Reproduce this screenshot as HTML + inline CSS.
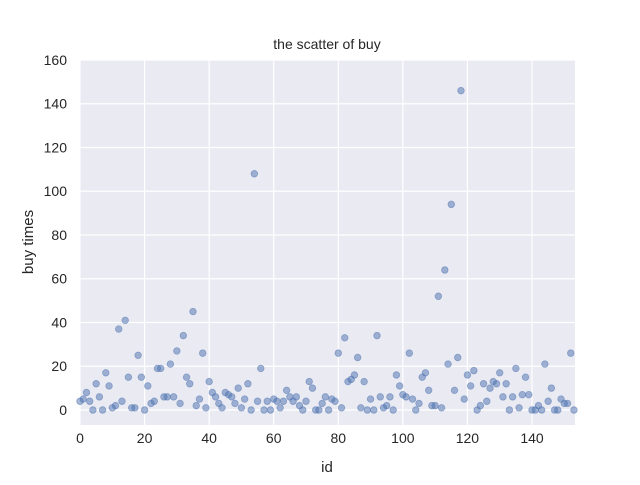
<!DOCTYPE html>
<html><head><meta charset="utf-8"><style>
body{margin:0;background:#fff;}
svg text{font-family:"Liberation Sans","DejaVu Sans",sans-serif;fill:#262626;}
</style></head><body>
<svg id="chart" width="640" height="480" xmlns="http://www.w3.org/2000/svg">
<rect x="0" y="0" width="640" height="480" fill="#fff"/>
<rect x="80" y="60" width="495" height="365" fill="#eaeaf2"/>
<g id="grid"></g>
<g id="ticks"></g>
<g id="points"></g>
<text x="327" y="49" font-size="14" text-anchor="middle">the scatter of buy</text>
<text x="327" y="472" font-size="15" text-anchor="middle">id</text>
<text x="33" y="242" font-size="15" text-anchor="middle" transform="rotate(-90 33 242)">buy times</text>
</svg>
<script>
const buyTimes = [4,5,8,4,0,12,6,0,17,11,1,2,37,4,41,15,1,1,25,15,0,11,3,4,19,19,6,6,21,6,27,3,34,15,12,45,2,5,26,1,13,8,6,3,1,8,7,6,3,10,1,5,12,0,108,4,19,0,4,0,5,4,1,4,9,6,4,6,2,0,4,13,10,0,0,3,6,0,5,4,26,1,33,13,14,16,24,1,13,0,5,0,34,6,1,2,6,0,16,11,7,6,26,5,0,3,15,17,9,2,2,52,1,64,21,94,9,24,146,5,16,11,18,0,2,12,4,10,13,12,17,6,12,0,6,19,1,7,15,7,0,0,2,0,21,4,10,0,0,5,3,3,26,0];
const xTicks = [0,20,40,60,80,100,120,140];
const yTicks = [0,20,40,60,80,100,120,140,160];
const xMin=0, xMax=153.32, yMin=-6.86, yMax=160;
const L=80,R=575,T=60,B=425;
const sx=v=>L+(v-xMin)/(xMax-xMin)*(R-L);
const sy=v=>B-(v-yMin)/(yMax-yMin)*(B-T);
const NS="http://www.w3.org/2000/svg";
const grid=document.getElementById('grid'), ticks=document.getElementById('ticks'), pts=document.getElementById('points');
xTicks.forEach(t=>{
  const l=document.createElementNS(NS,'line');
  l.setAttribute('x1',sx(t));l.setAttribute('x2',sx(t));l.setAttribute('y1',T);l.setAttribute('y2',B);
  l.setAttribute('stroke','#fff');l.setAttribute('stroke-width','1.2');
  
  
  grid.appendChild(l);
  const tx=document.createElementNS(NS,'text');
  tx.setAttribute('x',sx(t));tx.setAttribute('y',B+18);tx.setAttribute('font-size','14');tx.setAttribute('text-anchor','middle');
  tx.textContent=t;
  
  
  ticks.appendChild(tx);
});
yTicks.forEach(t=>{
  const l=document.createElementNS(NS,'line');
  l.setAttribute('y1',sy(t));l.setAttribute('y2',sy(t));l.setAttribute('x1',L);l.setAttribute('x2',R);
  l.setAttribute('stroke','#fff');l.setAttribute('stroke-width','1.2');
  
  
  grid.appendChild(l);
  const tx=document.createElementNS(NS,'text');
  tx.setAttribute('x',L-13);tx.setAttribute('y',sy(t)+5);tx.setAttribute('font-size','14');tx.setAttribute('text-anchor','end');
  tx.textContent=t;
  
  
  ticks.appendChild(tx);
});
buyTimes.forEach((v,i)=>{
  const c=document.createElementNS(NS,'circle');
  c.setAttribute('cx',sx(i));c.setAttribute('cy',sy(v));c.setAttribute('r','3.3');
  c.setAttribute('fill','#4c72b0');c.setAttribute('fill-opacity','0.5');
  c.setAttribute('stroke','#4c72b0');c.setAttribute('stroke-opacity','0.5');c.setAttribute('stroke-width','0.8');
  
  
  pts.appendChild(c);
});
</script>
</body></html>
